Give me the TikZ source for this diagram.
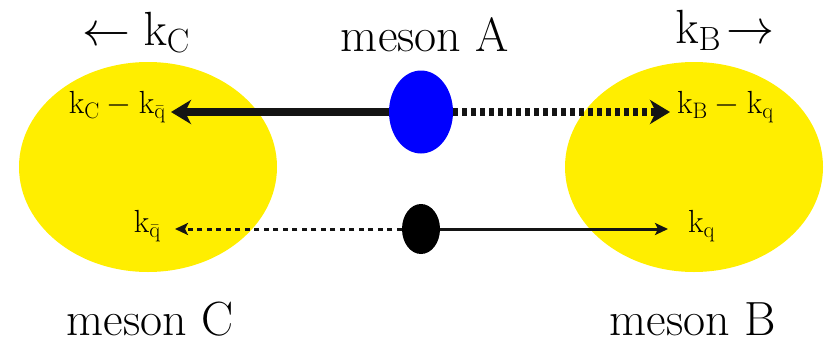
\documentclass[tikz,border=0pt]{standalone}
\usepackage{fix-cm}
\usetikzlibrary{shapes.geometric,arrows.meta}
\definecolor{blobyellow}{RGB}{255,238,0}
\definecolor{arrowgray}{RGB}{20,20,20}
\begin{document}
\begin{tikzpicture}[x=1pt,y=-1pt,
  blob/.style={ellipse,fill=blobyellow,draw=none,minimum width=258pt,minimum height=210pt,inner sep=0pt},
  big/.style={font=\fontsize{48}{54}\selectfont,inner sep=0pt},
  small/.style={font=\fontsize{32}{36}\selectfont,inner sep=0pt},
  thickarr/.style={line width=8pt,draw=arrowgray,-{Stealth[length=20pt,width=24pt,inset=6pt]}},
  thinarr/.style={line width=3pt,draw=arrowgray,-{Stealth[length=13pt,width=12pt,inset=3pt]}}
]
\useasboundingbox (0,0) rectangle (833,343);
\node[blob] (C) at (148,167) {};
\node[blob] (B) at (694,167) {};
\node[ellipse,fill=blue,minimum width=64pt,minimum height=83pt,inner sep=0pt] (A) at (421,112) {};
\node[ellipse,fill=black,minimum width=38pt,minimum height=50pt,inner sep=0pt] (q) at (421,229) {};

\node[small,anchor=east] (lc) at (166,107) {$\mathrm{k_C}-\mathrm{k}_{\bar{\mathrm{q}}}$};
\node[small,anchor=west] (lb) at (677,107) {$\mathrm{k_B}-\mathrm{k_q}$};
\node[small,anchor=east] (lqb) at (161,226) {$\mathrm{k}_{\bar{\mathrm{q}}}$};
\node[small,anchor=west] (lq) at (688,226) {$\mathrm{k_q}$};

\draw[thickarr] (A.west) -- ([xshift=5pt]lc.east |- A.west);
\draw[thickarr,dash pattern=on 5pt off 4pt] (A.east) -- ([xshift=-7pt]lb.west |- A.east);
\draw[thinarr,dash pattern=on 5pt off 4.5pt] (q.west) -- ([xshift=14pt]lqb.east |- q.west);
\draw[thinarr] (q.east) -- ([xshift=-20pt]lq.west |- q.east);

\node[big] (tc) at (136,32) {$\leftarrow\mathrm{k_C}$};
\node[big] (ta) at (425,35) {meson A};
\node[big] (tb) at (725,30) {$\mathrm{k_B}\!\rightarrow$};
\node[big] (mc) at (150,319) {meson C};
\node[big] (mb) at (693,319) {meson B};
\end{tikzpicture}
\end{document}
